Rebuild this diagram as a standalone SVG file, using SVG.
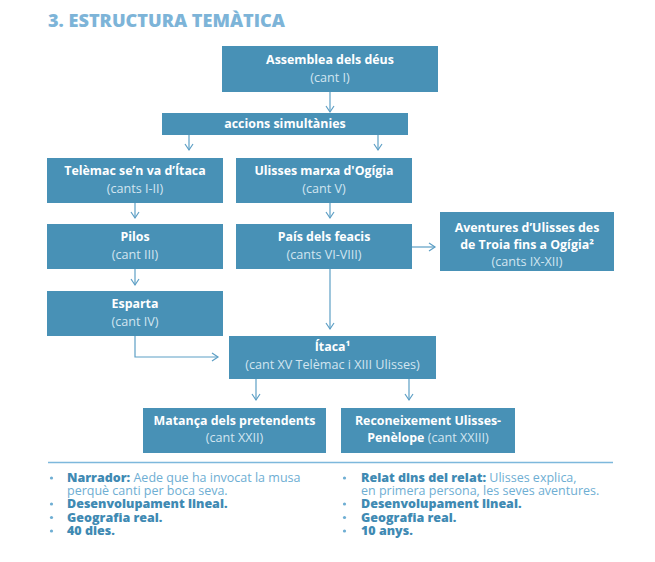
<svg xmlns="http://www.w3.org/2000/svg" width="655" height="562" viewBox="0 0 655 562">
<defs>
<style>
.box{fill:#4891b6}
.t{font-family:"Open Sans","DejaVu Sans",sans-serif;font-size:12.4px;font-weight:700;fill:#ffffff;text-anchor:middle}
.s{font-family:"Open Sans","DejaVu Sans",sans-serif;font-size:12.6px;font-weight:400;fill:#d2e5f0;text-anchor:middle}
.c{fill:none;stroke:#5d9fc5;stroke-width:1.2}
.b{font-family:"Open Sans","DejaVu Sans",sans-serif;font-size:12.5px;font-weight:800;fill:#3f8ab3}
.r{font-weight:400;fill:#6eaed3}
.dot{fill:#6eaed3}
.title{font-family:"Open Sans","DejaVu Sans",sans-serif;font-size:17px;font-weight:800;fill:#7db4d8}
</style>
<marker id="ah" markerWidth="10" markerHeight="10" refX="8" refY="5" orient="auto" markerUnits="userSpaceOnUse">
<path d="M2,1 L8,5 L2,9" fill="none" stroke="#5d9fc5" stroke-width="1.2"/>
</marker>
</defs>
<rect width="655" height="562" fill="#ffffff"/>
<text class="title" x="48" y="27" textLength="237" lengthAdjust="spacingAndGlyphs">3. ESTRUCTURA TEMÀTICA</text>

<g id="connectors">
<line class="c" x1="330" y1="92" x2="330" y2="112" marker-end="url(#ah)"/>
<line class="c" x1="189" y1="135" x2="189" y2="150" marker-end="url(#ah)"/>
<line class="c" x1="378" y1="135" x2="378" y2="150" marker-end="url(#ah)"/>
<line class="c" x1="135" y1="203" x2="135" y2="218" marker-end="url(#ah)"/>
<line class="c" x1="135" y1="269" x2="135" y2="285" marker-end="url(#ah)"/>
<line class="c" x1="330" y1="203" x2="330" y2="218" marker-end="url(#ah)"/>
<line class="c" x1="412" y1="247" x2="435" y2="247" marker-end="url(#ah)"/>
<line class="c" x1="330" y1="269" x2="330" y2="329" marker-end="url(#ah)"/>
<polyline class="c" points="135,336 135,357 218,357" marker-end="url(#ah)"/>
<line class="c" x1="256" y1="379" x2="256" y2="400" marker-end="url(#ah)"/>
<line class="c" x1="409" y1="379" x2="409" y2="400" marker-end="url(#ah)"/>
</g>

<g id="assemblea">
<rect class="box" x="222" y="46" width="216" height="46"/>
<text class="t" x="330" y="64">Assemblea dels déus</text>
<text class="s" x="330" y="82">(cant I)</text>
</g>
<g id="accions">
<rect class="box" x="162" y="113" width="246" height="22"/>
<text class="t" x="285" y="128">accions simultànies</text>
</g>
<g id="telemac">
<rect class="box" x="47" y="158" width="176" height="45"/>
<text class="t" x="135" y="175">Telèmac se’n va d’Ítaca</text>
<text class="s" x="135" y="193">(cants I-II)</text>
</g>
<g id="ulisses">
<rect class="box" x="236" y="158" width="176" height="45"/>
<text class="t" x="324" y="175">Ulisses marxa d'Ogígia</text>
<text class="s" x="324" y="193">(cant V)</text>
</g>
<g id="pilos">
<rect class="box" x="47" y="224" width="176" height="45"/>
<text class="t" x="135" y="241">Pilos</text>
<text class="s" x="135" y="259">(cant III)</text>
</g>
<g id="pais">
<rect class="box" x="236" y="224" width="176" height="45"/>
<text class="t" x="324" y="241">País dels feacis</text>
<text class="s" x="324" y="259">(cants VI-VIII)</text>
</g>
<g id="aventures">
<rect class="box" x="440" y="212" width="174" height="59"/>
<text class="t" x="527" y="232">Aventures d’Ulisses des</text>
<text class="t" x="527" y="249">de Troia fins a Ogígia²</text>
<text class="s" x="527" y="266">(cants IX-XII)</text>
</g>
<g id="esparta">
<rect class="box" x="47" y="291" width="176" height="45"/>
<text class="t" x="135" y="308">Esparta</text>
<text class="s" x="135" y="326">(cant IV)</text>
</g>
<g id="itaca">
<rect class="box" x="229" y="336" width="207" height="43"/>
<text class="t" x="332.5" y="351">Ítaca¹</text>
<text class="s" x="332.5" y="369">(cant XV Telèmac i XIII Ulisses)</text>
</g>
<g id="matanca">
<rect class="box" x="143" y="408" width="183" height="45"/>
<text class="t" x="234.5" y="425">Matança dels pretendents</text>
<text class="s" x="234.5" y="442">(cant XXII)</text>
</g>
<g id="reconeixement">
<rect class="box" x="341" y="408" width="174" height="45"/>
<text class="t" x="428" y="425">Reconeixement Ulisses-</text>
<text class="t" x="428" y="442">Penèlope <tspan style="font-weight:400;fill:#d2e5f0;font-size:12.6px">(cant XXIII)</tspan></text>
</g>

<line x1="48" y1="462.5" x2="613" y2="462.5" stroke="#7db8dc" stroke-width="1.3"/>

<g id="notes-left">
<circle class="dot" cx="51.5" cy="478" r="1.6"/>
<circle class="dot" cx="51.5" cy="504" r="1.6"/>
<circle class="dot" cx="51.5" cy="517.5" r="1.6"/>
<circle class="dot" cx="51.5" cy="531" r="1.6"/>
<text class="b"><tspan x="67" y="482">Narrador: <tspan class="r">Aede que ha invocat la musa</tspan></tspan><tspan class="r" x="67" y="495">perquè canti per boca seva.</tspan><tspan x="67" y="508">Desenvolupament lineal.</tspan><tspan x="67" y="521.5">Geografia real.</tspan><tspan x="67" y="535">40 dies.</tspan></text>
</g>
<g id="notes-right">
<circle class="dot" cx="344.5" cy="478" r="1.6"/>
<circle class="dot" cx="344.5" cy="504" r="1.6"/>
<circle class="dot" cx="344.5" cy="517.5" r="1.6"/>
<circle class="dot" cx="344.5" cy="531" r="1.6"/>
<text class="b"><tspan x="361" y="482">Relat dins del relat: <tspan class="r">Ulisses explica,</tspan></tspan><tspan class="r" x="361" y="495">en primera persona, les seves aventures.</tspan><tspan x="361" y="508">Desenvolupament lineal.</tspan><tspan x="361" y="521.5">Geografia real.</tspan><tspan x="361" y="535">10 anys.</tspan></text>
</g>
</svg>
